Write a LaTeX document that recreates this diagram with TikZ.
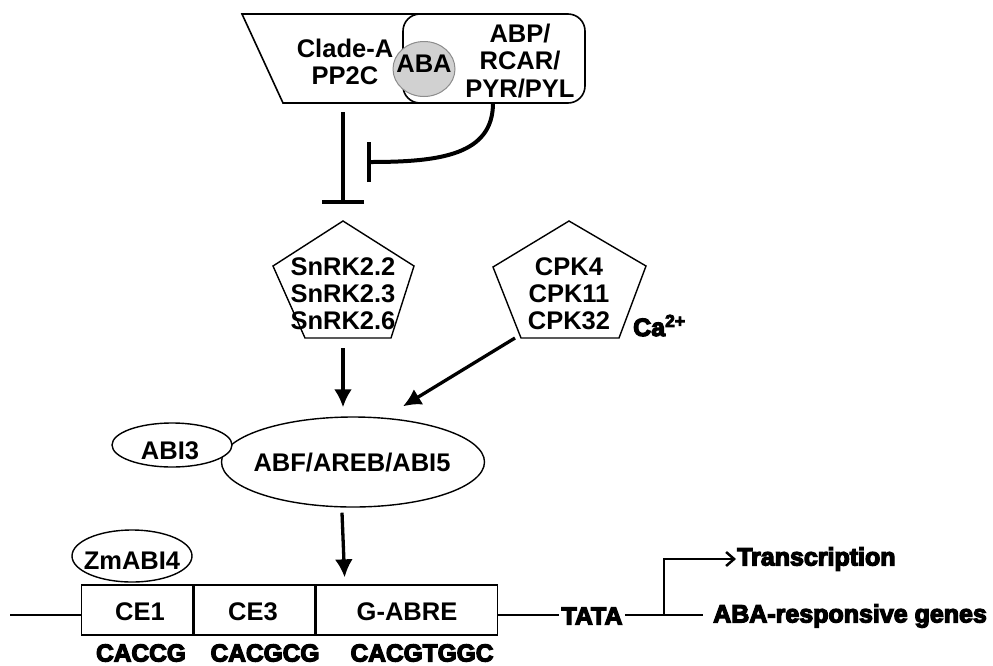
\documentclass[tikz,border=0pt]{standalone}
\usepackage{fontspec}
\setmainfont{Liberation Sans}
\newfontfamily\heavyfont[BoldFeatures={FakeBold=5}]{Liberation Sans}
\usetikzlibrary{shapes.geometric,arrows.meta,calc}

\begin{document}
\begin{tikzpicture}[x=1pt,y=-1pt,
  lbl/.style={font=\fontsize{25.5}{27}\selectfont\bfseries, align=center, inner sep=0},
  heavy/.style={font=\heavyfont\fontsize{25}{28}\selectfont\bfseries, inner sep=0},
  seq/.style={font=\heavyfont\fontsize{24.5}{28}\selectfont\bfseries, inner sep=0},
  outline/.style={draw, line width=1.6pt},
  penta/.style={draw, line width=1.4pt, line join=miter},
  oval/.style={ellipse, draw, line width=1.4pt, inner sep=0},
  inhib/.style={line width=4pt},
  arr/.style={line width=3.3pt, -{Latex[length=18pt,width=18pt]}},
  dna/.style={line width=2pt},
  segment/.style={draw, line width=1.3pt, minimum height=50pt, inner sep=0}
]
\useasboundingbox (0,0) rectangle (993,665);

% receptor complex: PP2C trapezoid, receptor box, ABA ball
\draw[outline, fill=white] (420,14) -- (242,14) -- (283,103) -- (420,103);
\draw[outline, fill=white, rounded corners=17pt] (403,14) rectangle (585,103);
\node[ellipse, draw=black!45, fill=black!18, line width=1pt, minimum width=62pt, minimum height=55pt, inner sep=0] (ababall) at (424,69) {};
\node[lbl] (aba) at (424,64) {ABA};
\node[lbl] (pp2c) at (345,62) {Clade-A\\PP2C};
\node[lbl, font=\fontsize{25.5}{27.5}\selectfont\bfseries] (pyl) at (520,61) {ABP/\\RCAR/\\PYR/PYL};
\coordinate (cpxbot) at (343,103);
\coordinate (pylbot) at (493,103);

% inhibitions
\draw[inhib, -{Bar[width=42pt]}] ([shift={(0,9)}]cpxbot) -- ([shift={(0,101)}]cpxbot);
\draw[inhib, -{Bar[width=40pt]}] (pylbot) .. controls (493,155) and (440,162) .. (367,162);

% kinases
\node[lbl] (snrk) at (343,294) {SnRK2.2\\SnRK2.3\\SnRK2.6};
\draw[penta] ([shift={(0,-73)}]snrk.center) -- ([shift={(71,-28)}]snrk.center)
  -- ([shift={(48,44)}]snrk.center) -- ([shift={(-38,44)}]snrk.center)
  -- ([shift={(-70,-28)}]snrk.center) -- cycle;
\node[lbl] (cpk) at (569,294) {CPK4\\CPK11\\CPK32};
\draw[penta] ([shift={(0,-73)}]cpk.center) -- ([shift={(77,-28)}]cpk.center)
  -- ([shift={(50,44)}]cpk.center) -- ([shift={(-48,44)}]cpk.center)
  -- ([shift={(-76,-27)}]cpk.center) -- cycle;
\node[heavy, anchor=base west] (ca) at (633,336) {Ca\textsuperscript{2+}};

% transcription factors
\node[oval, minimum width=263pt, minimum height=90pt] (abf) at (353,462) {};
\node[lbl] (abftxt) at (352,463) {ABF/AREB/ABI5};
\node[oval, fill=white, minimum width=120pt, minimum height=44pt] (abi3) at (172,445) {};
\node[lbl] (abi3txt) at (170,451) {ABI3};

\draw[arr, shorten >=9pt] ([shift={(0,54)}]snrk.center) -- (snrk.center |- abf.north);
\draw[arr] ([shift={(-54,44)}]cpk.center) -- ([shift={(50,-10)}]abf.north);

% promoter
\node[segment, minimum width=111pt, anchor=west] (ce1) at (81,610) {};
\node[segment, minimum width=121pt, anchor=west] (ce3) at (ce1.east) {};
\node[segment, minimum width=181pt, anchor=west] (gabre) at (ce3.east) {};
\node[lbl] (ce1txt) at (140,612) {CE1};
\node[lbl] (ce3txt) at (253,612) {CE3};
\node[lbl] (gabretxt) at (407,612) {G-ABRE};
\node[oval, minimum width=120pt, minimum height=52pt] (zmabi4) at (132,556) {};
\node[lbl] (zmtxt) at (132,561) {ZmABI4};

\draw[arr] ([shift={(-11,5)}]abf.south) -- ([shift={(29,-7)}]gabre.north west);

\node[seq] (s1) at (141,653) {CACCG};
\node[seq] (s2) at (265,653) {CACGCG};
\node[seq] (s3) at (422,653) {CACGTGGC};

\coordinate (dnastart) at (10,615);
\draw[dna] (dnastart) -- (dnastart -| ce1.west);
\node[heavy] (tata) at (592,616) {TATA};
\draw[dna] (dnastart -| gabre.east) -- ([shift={(-2,0)}]dnastart -| tata.west);
\coordinate (branch) at (664,615);
\node[heavy, anchor=west] (genes) at (713,616) {ABA-responsive genes};
\node[heavy, anchor=west] (trans) at (737,559) {Transcription};
\draw[dna] ([shift={(2,0)}]dnastart -| tata.east) -- ([shift={(-10,0)}]dnastart -| genes.west);
\draw[line width=2.5pt, -{Straight Barb[length=8pt,width=14pt]}, shorten >=1pt]
  (branch) -- (branch |- trans.west) -- (trans.west);
\end{tikzpicture}
\end{document}
